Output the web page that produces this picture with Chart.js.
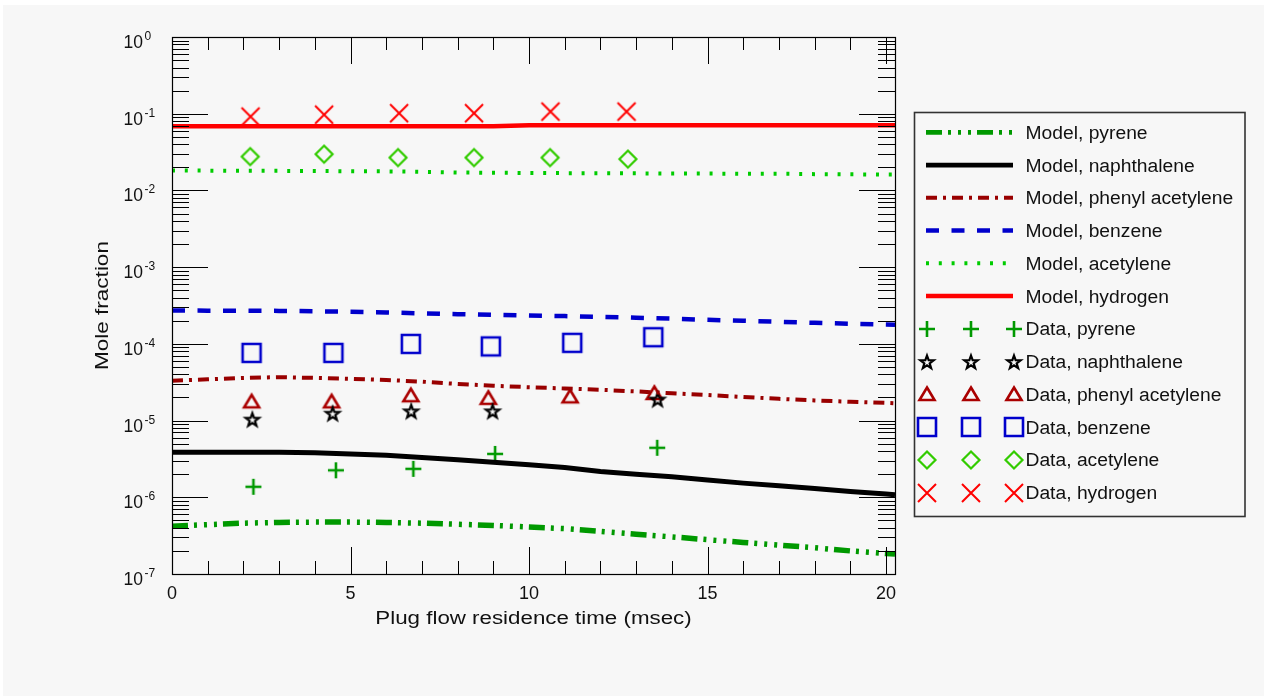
<!DOCTYPE html>
<html><head><meta charset="utf-8">
<script src="https://cdn.jsdelivr.net/npm/chart.js@4.4.0/dist/chart.umd.min.js"></script>
<style>
html,body{margin:0;padding:0;background:#fff;overflow:hidden}
#wrap{position:absolute;left:0;top:0;width:1264px;height:696px}
</style></head><body>
<div id="wrap"><canvas id="c" width="1264" height="696"></canvas></div>
<script>
// ---------- data ----------
const species = ['pyrene', 'naphthalene', 'phenyl acetylene', 'benzene', 'acetylene', 'hydrogen'];

const modelTime = [0,1,2,3,4,5,6,7,8,9,10,11,12,13,14,15,16,17,18,19,20,20.25];
const modelPyrene = [4.2e-7,4.4e-7,4.6e-7,4.7e-7,4.75e-7,4.75e-7,4.7e-7,4.6e-7,4.45e-7,4.3e-7,4.1e-7,3.9e-7,3.6e-7,3.3e-7,3.05e-7,2.8e-7,2.58e-7,2.38e-7,2.2e-7,2.0e-7,1.85e-7,1.82e-7];
const modelNaphthalene = [3.86e-6,3.86e-6,3.86e-6,3.86e-6,3.8e-6,3.68e-6,3.52e-6,3.3e-6,3.08e-6,2.86e-6,2.65e-6,2.45e-6,2.17e-6,2.0e-6,1.85e-6,1.68e-6,1.53e-6,1.41e-6,1.3e-6,1.19e-6,1.1e-6,1.08e-6];
const modelPhenylAcetylene = [3.3e-5,3.45e-5,3.6e-5,3.68e-5,3.6e-5,3.5e-5,3.38e-5,3.22e-5,3.0e-5,2.85e-5,2.72e-5,2.62e-5,2.52e-5,2.4e-5,2.27e-5,2.15e-5,2.03e-5,1.92e-5,1.83e-5,1.76e-5,1.7e-5,1.68e-5];
const modelBenzene = [2.72e-4,2.71e-4,2.7e-4,2.69e-4,2.66e-4,2.62e-4,2.57e-4,2.5e-4,2.44e-4,2.39e-4,2.34e-4,2.3e-4,2.25e-4,2.19e-4,2.13e-4,2.06e-4,2.0e-4,1.94e-4,1.88e-4,1.83e-4,1.79e-4,1.78e-4];
const modelAcetylene = [0.0182,0.0181,0.018,0.018,0.0179,0.0178,0.0177,0.0175,0.0171,0.017,0.0169,0.0168,0.0168,0.0167,0.0166,0.0166,0.0165,0.0165,0.0163,0.0162,0.0161,0.0161];
const modelHydrogen = [0.0686,0.0686,0.0686,0.0686,0.0686,0.0686,0.0686,0.0686,0.0686,0.0686,0.0707,0.0707,0.0707,0.0707,0.0707,0.0707,0.0707,0.0707,0.0707,0.0707,0.0707,0.0707];

const dataPyreneTime = [2.28,4.59,6.76,9.05,13.59];
const dataPyrene = [1.37e-6,2.25e-6,2.35e-6,3.68e-6,4.42e-6];
const dataNaphthaleneTime = [2.25,4.5,6.7,8.98,13.6];
const dataNaphthalene = [1.03e-5,1.23e-5,1.32e-5,1.32e-5,1.88e-5];
const dataPhenylAcetyleneTime = [2.23,4.47,6.69,8.86,11.15,13.51];
const dataPhenylAcetylene = [1.78e-5,1.78e-5,2.14e-5,1.98e-5,2.07e-5,2.29e-5];
const dataBenzeneTime = [2.23,4.52,6.69,8.93,11.21,13.48];
const dataBenzene = [7.62e-5,7.62e-5,9.98e-5,9.27e-5,1.03e-4,1.22e-4];
const dataAcetyleneTime = [2.19,4.26,6.33,8.46,10.59,12.77];
const dataAcetylene = [0.0276,0.0297,0.0268,0.0268,0.0268,0.0256];
const dataHydrogenTime = [2.2,4.26,6.36,8.46,10.6,12.73];
const dataHydrogen = [0.0917,0.0973,0.1015,0.1015,0.1065,0.1065];

const xTickValues = [0,5,10,15,20];
const xTickLabels = ['0','5','10','15','20'];
const yTickExponents = [0,-1,-2,-3,-4,-5,-6,-7];
const xTitle = 'Plug flow residence time (msec)';
const yTitle = 'Mole fraction';

// ---------- styles ----------
const FONT = "'Liberation Sans', Arial, Helvetica, sans-serif";
const TEXT = '#111111';

function marker(kind, color) {
  const c = document.createElement('canvas');
  c.width = 26; c.height = 26;
  const g = c.getContext('2d');
  g.strokeStyle = color; g.translate(13, 13); g.lineJoin = 'miter';
  g.beginPath();
  if (kind === 'plus') {
    g.lineWidth = 2.6;
    g.moveTo(-8, 0); g.lineTo(8, 0); g.moveTo(0, -8); g.lineTo(0, 8);
  } else if (kind === 'star') {
    g.lineWidth = 2.2;
    for (let i = 0; i < 10; i++) {
      const r = i % 2 === 0 ? 7 : 2.8;
      const a = -Math.PI / 2 + i * Math.PI / 5;
      const px = r * Math.cos(a), py = r * Math.sin(a) + 0.5;
      if (i === 0) g.moveTo(px, py); else g.lineTo(px, py);
    }
    g.closePath();
  } else if (kind === 'triangle') {
    g.lineWidth = 2.6;
    g.moveTo(0, -6.5); g.lineTo(7.5, 6); g.lineTo(-7.5, 6); g.closePath();
  } else if (kind === 'square') {
    g.lineWidth = 2.6;
    g.rect(-9, -9, 18, 18);
  } else if (kind === 'diamond') {
    g.lineWidth = 2.2;
    g.moveTo(0, -8.5); g.lineTo(8.5, 0); g.lineTo(0, 8.5); g.lineTo(-8.5, 0); g.closePath();
  } else if (kind === 'cross') {
    g.lineWidth = 2;
    g.moveTo(-9, -9); g.lineTo(9, 9); g.moveTo(9, -9); g.lineTo(-9, 9);
  }
  g.stroke();
  return c;
}

function pts(xs, ys) { return xs.map((x, i) => ({x: x, y: ys[i]})); }

function modelSet(name, ys, color, width, dash) {
  return {label: 'Model, ' + name, data: pts(modelTime, ys), showLine: true,
    borderColor: color, backgroundColor: color, borderWidth: width, borderDash: dash,
    borderCapStyle: 'butt', pointRadius: 0, pointHoverRadius: 0, tension: 0, fill: false, _model: true};
}
function dataSet(name, xs, ys, kind, color) {
  const m = marker(kind, color);
  return {label: 'Data, ' + name, data: pts(xs, ys), showLine: false,
    borderColor: color, backgroundColor: color, pointStyle: m, pointRadius: 6, pointHoverRadius: 6, _model: false};
}

const datasets = [
  modelSet(species[0], modelPyrene, '#009900', 5.5, [16,6,3,7,3,7,3,6]),
  modelSet(species[1], modelNaphthalene, '#000000', 5, []),
  modelSet(species[2], modelPhenylAcetylene, '#990000', 4, [11,6,3,6]),
  modelSet(species[3], modelBenzene, '#0000cc', 4.5, [13,12.5]),
  modelSet(species[4], modelAcetylene, '#00cc00', 4, [3,9.8]),
  modelSet(species[5], modelHydrogen, '#ff0000', 4.5, []),
  dataSet(species[0], dataPyreneTime, dataPyrene, 'plus', '#009900'),
  dataSet(species[1], dataNaphthaleneTime, dataNaphthalene, 'star', '#000000'),
  dataSet(species[2], dataPhenylAcetyleneTime, dataPhenylAcetylene, 'triangle', '#aa0000'),
  dataSet(species[3], dataBenzeneTime, dataBenzene, 'square', '#0000cc'),
  dataSet(species[4], dataAcetyleneTime, dataAcetylene, 'diamond', '#33cc00'),
  dataSet(species[5], dataHydrogenTime, dataHydrogen, 'cross', '#ff0000')
];

function txt(ctx, s, x, y, size, align, sx) {
  ctx.save();
  ctx.font = size + 'px ' + FONT;
  ctx.fillStyle = TEXT;
  ctx.textAlign = align; ctx.textBaseline = 'alphabetic';
  ctx.translate(x, y); ctx.scale(sx, 1);
  ctx.fillText(s, 0, 0);
  ctx.restore();
}
function seg(ctx, x1, y1, x2, y2) { ctx.beginPath(); ctx.moveTo(x1, y1); ctx.lineTo(x2, y2); ctx.stroke(); }

const bgPlugin = {
  id: 'bg',
  beforeDraw(chart) {
    const ctx = chart.ctx;
    ctx.save();
    ctx.fillStyle = '#ffffff'; ctx.fillRect(0, 0, chart.width, chart.height);
    ctx.fillStyle = '#f7f7f7'; ctx.fillRect(3, 5, chart.width - 3, chart.height - 5);
    ctx.restore();
  }
};

const framePlugin = {
  id: 'frame',
  afterDatasetsDraw(chart) {
    const ctx = chart.ctx, a = chart.chartArea, xs = chart.scales.x, ys = chart.scales.y;
    ctx.save();
    ctx.strokeStyle = '#000'; ctx.lineWidth = 1;
    // x ticks (inside, top and bottom)
    for (let t = Math.ceil(xs.min); t <= xs.max; t++) {
      const px = Math.round(xs.getPixelForValue(t)) + 0.5;
      const L = xTickValues.includes(t) ? 27 : 13;
      seg(ctx, px, a.bottom, px, a.bottom - L);
      seg(ctx, px, a.top, px, a.top + L);
    }
    // y ticks (log)
    yTickExponents.forEach(e => {
      for (let m = 1; m <= 9; m++) {
        const v = m * Math.pow(10, e);
        if (v > ys.max * 1.0001 || v < ys.min * 0.9999) continue;
        const py = Math.round(ys.getPixelForValue(v)) + 0.5;
        const L = m === 1 ? 36 : 17;
        seg(ctx, a.left, py, a.left + L, py);
        seg(ctx, a.right, py, a.right - L, py);
      }
    });
    ctx.lineWidth = 1.2;
    ctx.strokeRect(Math.round(a.left) + 0.5, Math.round(a.top) + 0.5, Math.round(a.right - a.left), Math.round(a.bottom - a.top));
    ctx.restore();

    // tick labels
    xTickValues.forEach((v, i) => {
      txt(ctx, xTickLabels[i], xs.getPixelForValue(v), a.bottom + 24.5, 18, 'center', 1);
    });
    yTickExponents.forEach(e => {
      const py = ys.getPixelForValue(Math.pow(10, e));
      txt(ctx, '10', a.left - 29, py + 11, 17.5, 'right', 1);
      txt(ctx, String(e), a.left - 27.5, py + 3, 12, 'left', 1);
    });
    // axis titles
    txt(ctx, xTitle, (a.left + a.right) / 2, 623.5, 18, 'center', 1.24);
    ctx.save();
    ctx.translate(107.5, (a.top + a.bottom) / 2);
    ctx.rotate(-Math.PI / 2);
    txt(ctx, yTitle, 0, 0, 18, 'center', 1.25);
    ctx.restore();

    // legend
    ctx.save();
    ctx.strokeStyle = '#333'; ctx.lineWidth = 1.6;
    ctx.strokeRect(914.5, 112.5, 330.5, 404);
    ctx.restore();
    chart.data.datasets.forEach((ds, i) => {
      const cy = 132.3 + 32.75 * i;
      if (ds._model) {
        ctx.save();
        ctx.strokeStyle = ds.borderColor; ctx.lineWidth = Math.min(ds.borderWidth, 4.7);
        ctx.setLineDash(ds.borderDash || []); ctx.lineCap = 'butt';
        seg(ctx, 926, cy, 1013, cy);
        ctx.restore();
      } else {
        [927, 970.5, 1014].forEach(mx => {
          ctx.drawImage(ds.pointStyle, Math.round(mx - ds.pointStyle.width / 2), Math.round(cy - ds.pointStyle.height / 2));
        });
      }
      txt(ctx, ds.label, 1025.5, cy + 6.5, 18, 'left', 1.07);
    });
  }
};

new Chart(document.getElementById('c'), {
  type: 'scatter',
  data: {datasets: datasets},
  options: {
    responsive: false, animation: false, devicePixelRatio: 1,
    layout: {padding: {left: 172, top: 37, right: 369, bottom: 122}},
    plugins: {legend: {display: false}, tooltip: {enabled: false}, title: {display: false}},
    scales: {
      x: {type: 'linear', min: 0, max: 20.25, display: false},
      y: {type: 'logarithmic', min: 1e-7, max: 1, display: false}
    }
  },
  plugins: [bgPlugin, framePlugin]
});
</script>
</body></html>
